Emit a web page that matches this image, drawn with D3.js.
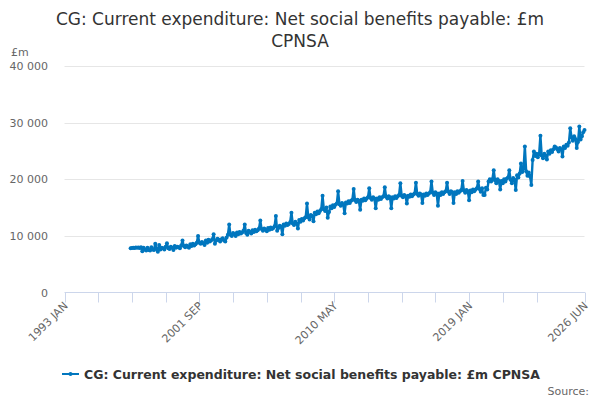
<!DOCTYPE html>
<html>
<head>
<meta charset="utf-8">
<script src="https://cdn.jsdelivr.net/npm/d3@7/dist/d3.min.js"></script>
<style>
  html, body { margin: 0; padding: 0; background: #fff; }
  svg { display: block; font-family: "DejaVu Sans", sans-serif; }
</style>
</head>
<body>
<svg id="chart" width="600" height="400"></svg>
<script>
// ---- data ----
const titleLines = ["CG: Current expenditure: Net social benefits payable: £m", "CPNSA"];
const seriesName = "CG: Current expenditure: Net social benefits payable: £m CPNSA";
const unitLabel = "£m";
const monthNames = ["JAN","FEB","MAR","APR","MAY","JUN","JUL","AUG","SEP","OCT","NOV","DEC"];
const firstYear = 1993;           // first category: 1993 JAN
const lastCategory = "2026 JUN";  // last category
const dataStart = "1997 APR";     // first month with a value
const yTicks = [0, 10000, 20000, 30000, 40000];
const xTickLabels = ["1993 JAN", "2001 SEP", "2010 MAY", "2019 JAN", "2026 JUN"];
const xTickMarks = ["1993 JAN","1995 MAR","1997 MAY","1999 JUL","2001 SEP","2003 NOV","2006 JAN","2008 MAR","2010 MAY","2012 JUL","2014 SEP","2016 NOV","2019 JAN","2021 MAR","2023 MAY","2026 JUN"];

// monthly values, one row per year (1997 starts in APR)
const values = [
  /*1997*/ 7800, 7850, 7900, 7850, 7950, 7900, 7950, 7850, 8000,
  /*1998*/ 7300, 7900, 7600, 7400, 7900, 7500, 7400, 8000, 7600, 7500, 8600, 7700,
  /*1999*/ 7200, 8400, 7600, 7900, 7800, 7600, 8100, 8700, 7800, 7700, 8100, 7900,
  /*2000*/ 7500, 8200, 7900, 8100, 8000, 7800, 8300, 9200, 8200, 8000, 8300, 8100,
  /*2001*/ 7900, 8500, 8200, 8600, 8300, 8500, 8800, 10000, 8800, 8600, 8900, 8700,
  /*2002*/ 8400, 9200, 8800, 9300, 9000, 9200, 9400, 10300, 8600, 9200, 9500, 9300,
  /*2003*/ 9000, 9400, 9600, 9200, 9000, 9700, 10200, 12000, 10200, 10000, 10500, 10300,
  /*2004*/ 10000, 10600, 10300, 10700, 10400, 10600, 10900, 12000, 10500, 10200, 10900, 10700,
  /*2005*/ 10400, 11000, 10700, 11100, 10800, 11000, 11300, 12700, 11200, 10900, 11300, 11100,
  /*2006*/ 10800, 11400, 11100, 11500, 11200, 11400, 11700, 13500, 10900, 11400, 11800, 11600,
  /*2007*/ 10300, 12000, 11800, 12200, 11900, 12100, 12400, 14100, 12200, 11900, 12500, 12200,
  /*2008*/ 11300, 12800, 12500, 13000, 12700, 13100, 13300, 15700, 13300, 12900, 13700, 13500,
  /*2009*/ 12600, 14100, 13800, 14300, 14000, 14400, 14700, 17100, 14700, 14400, 15000, 13200,
  /*2010*/ 14200, 15200, 14900, 15400, 15100, 15500, 15700, 17900, 15600, 15300, 15800, 15500,
  /*2011*/ 14000, 15900, 15700, 16100, 15800, 16200, 16400, 18300, 16300, 16000, 16400, 16200,
  /*2012*/ 14600, 16400, 16200, 16600, 16300, 16600, 16800, 18400, 16700, 16400, 16800, 16600,
  /*2013*/ 14900, 16600, 16400, 16800, 16500, 16800, 17000, 18600, 16900, 16600, 17000, 16800,
  /*2014*/ 14900, 16800, 16600, 17000, 16700, 17000, 17200, 19300, 17100, 16800, 17200, 17000,
  /*2015*/ 15700, 17100, 16900, 17300, 17000, 17300, 17500, 19400, 17400, 17100, 17500, 17300,
  /*2016*/ 15800, 17300, 17100, 17500, 17200, 17500, 17700, 19600, 17600, 17200, 17700, 17500,
  /*2017*/ 15300, 17500, 17200, 17700, 17400, 17700, 17900, 19400, 17800, 17400, 17900, 17700,
  /*2018*/ 15800, 17700, 17400, 17900, 17600, 17900, 18100, 19700, 18000, 17600, 18100, 17900,
  /*2019*/ 16300, 18000, 17700, 18200, 17900, 18200, 18400, 19600, 18300, 17800, 18400, 17200,
  /*2020*/ 17200, 18500, 18200, 19600, 20000, 19600, 20000, 21600, 19800, 19300, 20000, 19700,
  /*2021*/ 18200, 19700, 19300, 20000, 19600, 20100, 20300, 21600, 19900, 19300, 20200, 19900,
  /*2022*/ 18100, 20700, 20300, 21000, 22800, 21300, 21900, 25800, 21400, 20600, 21200, 20500,
  /*2023*/ 19000, 23400, 24900, 24100, 24500, 23900, 24400, 27700, 24200, 23700, 24500, 24200,
  /*2024*/ 23500, 24900, 24500, 25100, 24800, 25300, 25800, 25600, 25300, 24900, 25500, 25300,
  /*2025*/ 24000, 25800, 25500, 26100, 25900, 26500, 29000, 27400, 26800, 27600, 27100, 25500,
  /*2026*/ 26600, 29300, 27000, 27600, 28300, 28700
];

// ---- build categories ----
const categories = [];
for (let y = firstYear; ; y++) {
  let done = false;
  for (let m = 0; m < 12; m++) {
    const c = y + " " + monthNames[m];
    categories.push(c);
    if (c === lastCategory) { done = true; break; }
  }
  if (done) break;
}
const startIdx = categories.indexOf(dataStart);
const points = values.map((v, i) => ({ i: startIdx + i, v }));

// ---- layout ----
const svg = d3.select("#chart");
const W = 600, H = 400;
const plot = { left: 64.5, right: 584.5, top: 66, bottom: 292.5 };

const x = d3.scaleLinear().domain([0, categories.length - 1]).range([plot.left, plot.right]);
const y = d3.scaleLinear().domain([0, 40000]).range([plot.bottom, plot.top]);

// title
const title = svg.append("text")
  .attr("x", W / 2).attr("y", 25)
  .attr("text-anchor", "middle")
  .attr("fill", "#333333")
  .style("font-size", "17px");
titleLines.forEach((t, k) => {
  title.append("tspan").attr("x", W / 2).attr("dy", k === 0 ? 0 : 22).text(t);
});

// unit label
svg.append("text").attr("x", 11).attr("y", 56)
  .attr("fill", "#666666").style("font-size", "11px").text(unitLabel);

// gridlines + y labels
const fmt = v => d3.format(",")(v).replace(/,/g, " ");
const yAxis = svg.append("g");
yTicks.forEach(t => {
  if (t > 0) {
    yAxis.append("line")
      .attr("x1", plot.left).attr("x2", plot.right)
      .attr("y1", Math.round(y(t)) + 0.5).attr("y2", Math.round(y(t)) + 0.5)
      .attr("stroke", "#e6e6e6").attr("stroke-width", 1);
  }
  yAxis.append("text")
    .attr("x", 48).attr("y", y(t) + 4)
    .attr("text-anchor", "end")
    .attr("fill", "#666666").style("font-size", "11px")
    .text(fmt(t));
});

// x axis
const xAxisG = svg.append("g");
xAxisG.append("line")
  .attr("x1", plot.left).attr("x2", plot.right + 0.5)
  .attr("y1", plot.bottom).attr("y2", plot.bottom)
  .attr("stroke", "#ccd6eb").attr("stroke-width", 1);
xTickMarks.forEach(c => {
  const xi = Math.round(x(categories.indexOf(c))) + 0.5;
  xAxisG.append("line")
    .attr("x1", xi).attr("x2", xi)
    .attr("y1", plot.bottom).attr("y2", plot.bottom + 10)
    .attr("stroke", "#ccd6eb").attr("stroke-width", 1);
});
xTickLabels.forEach(c => {
  const xi = x(categories.indexOf(c));
  xAxisG.append("text")
    .attr("transform", `translate(${xi + 4},${plot.bottom + 14}) rotate(-45)`)
    .attr("text-anchor", "end")
    .attr("fill", "#666666").style("font-size", "11px")
    .text(c);
});

// series
const color = "#0076be";
const line = d3.line().x(d => x(d.i)).y(d => y(d.v));
svg.append("path").datum(points)
  .attr("d", line)
  .attr("fill", "none").attr("stroke", color)
  .attr("stroke-width", 2.4).attr("stroke-linejoin", "round");
svg.append("g").selectAll("circle").data(points).join("circle")
  .attr("cx", d => x(d.i)).attr("cy", d => y(d.v)).attr("r", 2)
  .attr("fill", color);

// legend
const lg = svg.append("g");
lg.append("line").attr("x1", 62).attr("x2", 79).attr("y1", 374).attr("y2", 374)
  .attr("stroke", color).attr("stroke-width", 2);
lg.append("circle").attr("cx", 70.5).attr("cy", 374).attr("r", 2).attr("fill", color);
lg.append("text").attr("x", 84).attr("y", 378.5)
  .attr("fill", "#333333").style("font-size", "12.5px").style("font-weight", "bold")
  .text(seriesName);

// source
svg.append("text").attr("x", 589).attr("y", 395)
  .attr("text-anchor", "end").attr("fill", "#666666").style("font-size", "11px")
  .text("Source:");
</script>
</body>
</html>
